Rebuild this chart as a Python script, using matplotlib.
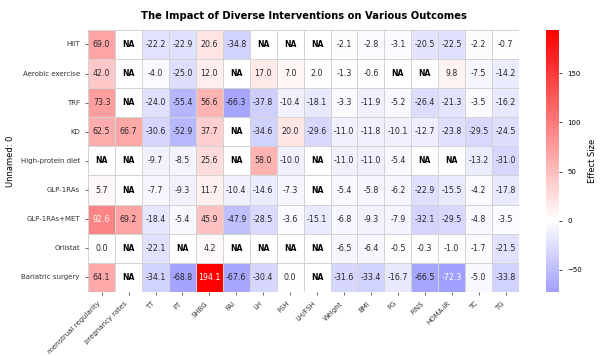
import matplotlib
matplotlib.use("Agg")
import matplotlib.pyplot as plt
import seaborn as sns
import numpy as np
import pandas as pd

nan = np.nan

interventions = ["HIIT", "Aerobic exercise", "TRF", "KD", "High-protein diet",
                 "GLP-1RAs", "GLP-1RAs+MET", "Orlistat", "Bariatric surgery"]
outcomes = ["menstrual regularity", "pregnancy rates", "TT", "FT", "SHBG", "FAI",
            "LH", "FSH", "LH/FSH", "Weight", "BMI", "FG", "FINS", "HOMA-IR", "TC", "TG"]

hiit = [69.0, nan, -22.2, -22.9, 20.6, -34.8, nan, nan, nan, -2.1, -2.8, -3.1, -20.5, -22.5, -2.2, -0.7]
aerobic = [42.0, nan, -4.0, -25.0, 12.0, nan, 17.0, 7.0, 2.0, -1.3, -0.6, nan, nan, 9.8, -7.5, -14.2]
trf = [73.3, nan, -24.0, -55.4, 56.6, -66.3, -37.8, -10.4, -18.1, -3.3, -11.9, -5.2, -26.4, -21.3, -3.5, -16.2]
kd = [62.5, 66.7, -30.6, -52.9, 37.7, nan, -34.6, 20.0, -29.6, -11.0, -11.8, -10.1, -12.7, -23.8, -29.5, -24.5]
high_protein = [nan, nan, -9.7, -8.5, 25.6, nan, 58.0, -10.0, nan, -11.0, -11.0, -5.4, nan, nan, -13.2, -31.0]
glp1 = [5.7, nan, -7.7, -9.3, 11.7, -10.4, -14.6, -7.3, nan, -5.4, -5.8, -6.2, -22.9, -15.5, -4.2, -17.8]
glp1_met = [92.6, 69.2, -18.4, -5.4, 45.9, -47.9, -28.5, -3.6, -15.1, -6.8, -9.3, -7.9, -32.1, -29.5, -4.8, -3.5]
orlistat = [0.0, nan, -22.1, nan, 4.2, nan, nan, nan, nan, -6.5, -6.4, -0.5, -0.3, -1.0, -1.7, -21.5]
bariatric = [64.1, nan, -34.1, -68.8, 194.1, -67.6, -30.4, 0.0, nan, -31.6, -33.4, -16.7, -66.5, -72.3, -5.0, -33.8]

df = pd.DataFrame([hiit, aerobic, trf, kd, high_protein, glp1, glp1_met, orlistat, bariatric],
                  index=interventions, columns=outcomes)
df.index.name = "Unnamed: 0"

fig = plt.figure(figsize=(6, 3.56), dpi=100)
ax = fig.add_axes([0.147, 0.18, 0.718, 0.736])
cax = fig.add_axes([0.91, 0.18, 0.022, 0.736])

sns.heatmap(df, ax=ax, cbar_ax=cax, cmap="bwr", center=0, annot=True, fmt=".1f",
            linewidths=0.5, linecolor="lightgray",
            annot_kws={"fontsize": 5.7},
            cbar_kws={"label": "Effect Size"})

# NA labels for missing cells
for i in range(df.shape[0]):
    for j in range(df.shape[1]):
        if np.isnan(df.iat[i, j]):
            ax.text(j + 0.5, i + 0.5, "NA", ha="center", va="center",
                    fontsize=5.5, fontweight="bold", color="black")

ax.set_title("The Impact of Diverse Interventions on Various Outcomes",
             fontsize=7.2, fontweight="bold", pad=8)
ax.set_xticklabels(ax.get_xticklabels(), rotation=45, ha="right", fontsize=5)
ax.set_yticklabels(ax.get_yticklabels(), rotation=0, fontsize=5)
ax.set_ylabel("Unnamed: 0", fontsize=6)
ax.set_xlabel("")
ax.tick_params(length=2.5, width=0.5, colors="#333333")

cax.tick_params(labelsize=5, length=2.5, width=0.5)
cax.yaxis.label.set_size(6)

fig.savefig("out.png", dpi=100)
